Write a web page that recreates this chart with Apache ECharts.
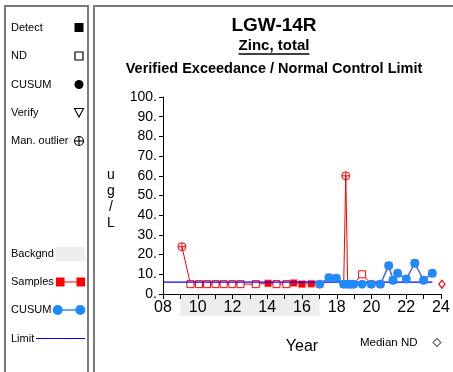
<!DOCTYPE html>
<html>
<head>
<meta charset="utf-8">
<script src="https://cdn.jsdelivr.net/npm/echarts@6/dist/echarts.min.js"></script>
<style>
html,body{margin:0;padding:0;background:#fff;}
#chart{width:453px;height:372px;}
</style>
</head>
<body>
<div id="chart"></div>
<script>
// ---- data ----
const sampleYears  = [9.09, 9.58, 10.07, 10.53, 11.02, 11.49, 11.99, 12.46, 13.34, 14.05, 14.53, 15.10, 15.52, 16.00, 16.54, 17.02, 17.55, 17.98, 18.40, 18.52, 18.63, 18.80, 18.97, 19.46, 19.99, 20.51, 20.99, 21.24, 21.50, 22.00, 22.49, 23.00, 23.50];
const sampleValues = [24,   5,    5,     5,     5,     5,     5,     5,     5,     5.4,   5,     5,     5.6,   5,     5.2,   5,     8.3,   8,     5,     60,    5,     5,     5,     10,    5,     5,     14.4,  7,     10.5,  7.6,   15.6,  7,     10.5];
const sampleFlags  = ['O', 'N',  'N',   'N',   'N',   'N',   'N',   'N',   'N',   'D',   'N',   'N',   'D',   'D',   'D',   'D',   'D',   'D',   'D',   'O',   'D',   'D',   'D',   'N',   'D',   'D',   'D',   'D',   'D',   'D',   'D',   'D',   'D'];

const cusumYears  = [17.02, 17.55, 17.98, 18.40, 18.63, 18.80, 18.97, 19.46, 19.99, 20.51, 20.99, 21.24, 21.50, 22.00, 22.49, 23.00, 23.50];
const cusumValues = [5,     8.3,   8,     5,     5,     5,     5,     5,     5,     5,     14.4,  7,     10.5,  7.6,   15.6,  7,     10.5];

const limitValue = 6;
const limitYears = [8, 23.5];
const backgroundYears = [9, 17];
const medianNDYear = 24.05;
const medianNDValue = 5;

const xTickYears  = [8, 10, 12, 14, 16, 18, 20, 22, 24];
const xTickLabels = ['08', '10', '12', '14', '16', '18', '20', '22', '24'];
const yTickValues = [0, 10, 20, 30, 40, 50, 60, 70, 80, 90, 100];
const yTickLabels = ['0.', '10.', '20.', '30.', '40.', '50.', '60.', '70.', '80.', '90.', '100.'];

// ---- build ----
const FONT = 'Liberation Sans, Arial, sans-serif';
const pick = f => sampleYears.map((x, i) => sampleFlags[i] === f ? [x, sampleValues[i]] : null).filter(Boolean);
const samplePts = sampleYears.map((x, i) => [x, sampleValues[i]]);
const cusumPts = cusumYears.map((x, i) => [x, cusumValues[i]]);
const outlierPath = 'path://M10,0A10,10,0,1,1,-10,0A10,10,0,1,1,10,0ZM-10,0L10,0M0,-10L0,10';

function textW(t, font) {
  const c = document.createElement('canvas').getContext('2d');
  c.font = font; return c.measureText(t).width;
}
const subFont = 'bold 15px ' + FONT;
const subW = textW('Zinc, total', subFont);
const titleX = 274;

const legendText = (t, y) => ({ type: 'text', x: 11, y: y, style: { text: t, fill: '#000', font: '11px ' + FONT, verticalAlign: 'middle' } });

const graphics = [
  // frames
  { type: 'rect', shape: { x: 5, y: 6, width: 83, height: 400 }, style: { fill: 'none', stroke: '#7a7a7a', lineWidth: 2 } },
  { type: 'rect', shape: { x: 94, y: 6, width: 400, height: 400 }, style: { fill: 'none', stroke: '#7a7a7a', lineWidth: 2 } },
  // titles
  { type: 'text', x: titleX, y: 26, style: { text: 'LGW-14R', fill: '#000', font: 'bold 19px ' + FONT, align: 'center', verticalAlign: 'middle' } },
  { type: 'text', x: titleX, y: 46, style: { text: 'Zinc, total', fill: '#000', font: subFont, align: 'center', verticalAlign: 'middle' } },
  { type: 'line', shape: { x1: titleX - subW / 2, y1: 54, x2: titleX + subW / 2, y2: 54 }, style: { stroke: '#000', lineWidth: 1.3 } },
  { type: 'text', x: titleX, y: 69, style: { text: 'Verified Exceedance / Normal Control Limit', fill: '#000', font: 'bold 14.5px ' + FONT, align: 'center', verticalAlign: 'middle' } },
  // y axis unit, stacked letters
  { type: 'text', x: 111, y: 199, style: { text: 'u\ng\n/\nL', fill: '#000', font: '14px ' + FONT, lineHeight: 15.8, align: 'center', verticalAlign: 'middle' } },
  // legend panel
  legendText('Detect', 27.5),
  { type: 'rect', shape: { x: 74.5, y: 23, width: 9, height: 9 }, style: { fill: '#000' } },
  legendText('ND', 56),
  { type: 'rect', shape: { x: 75, y: 52, width: 8, height: 8 }, style: { fill: '#fff', stroke: '#000', lineWidth: 1.2 } },
  legendText('CUSUM', 84.5),
  { type: 'circle', shape: { cx: 79, cy: 84.5, r: 4.5 }, style: { fill: '#000' } },
  legendText('Verify', 112.5),
  { type: 'polygon', shape: { points: [[74.5, 108.5], [83.5, 108.5], [79, 117]] }, style: { fill: '#fff', stroke: '#000', lineWidth: 1.1 } },
  legendText('Man. outlier', 141),
  { type: 'circle', shape: { cx: 79, cy: 141, r: 4.5 }, style: { fill: 'none', stroke: '#000', lineWidth: 1.1 } },
  { type: 'line', shape: { x1: 74.5, y1: 141, x2: 83.5, y2: 141 }, style: { stroke: '#000', lineWidth: 1.1 } },
  { type: 'line', shape: { x1: 79, y1: 136.5, x2: 79, y2: 145.5 }, style: { stroke: '#000', lineWidth: 1.1 } },
  legendText('Backgnd', 254),
  { type: 'rect', shape: { x: 56, y: 247, width: 29, height: 14 }, style: { fill: '#eeeeee' } },
  legendText('Samples', 282),
  { type: 'line', shape: { x1: 60, y1: 282, x2: 81, y2: 282 }, style: { stroke: '#ff0000', lineWidth: 1 } },
  { type: 'rect', shape: { x: 56, y: 277.5, width: 8.5, height: 9 }, style: { fill: '#ff0000' } },
  { type: 'rect', shape: { x: 76.5, y: 277.5, width: 8.5, height: 9 }, style: { fill: '#ff0000' } },
  legendText('CUSUM', 310),
  { type: 'line', shape: { x1: 58, y1: 310, x2: 80, y2: 310 }, style: { stroke: '#6aa8f0', lineWidth: 2 } },
  { type: 'circle', shape: { cx: 57.7, cy: 310, r: 5 }, style: { fill: '#1a8cff' } },
  { type: 'circle', shape: { cx: 80.3, cy: 310, r: 5 }, style: { fill: '#1a8cff' } },
  legendText('Limit', 338.5),
  { type: 'line', shape: { x1: 36, y1: 338.5, x2: 85, y2: 338.5 }, style: { stroke: '#0000ff', lineWidth: 1 } },
  // median ND note
  { type: 'text', x: 360, y: 342.5, style: { text: 'Median ND', fill: '#000', font: '11.5px ' + FONT, verticalAlign: 'middle' } },
  { type: 'polygon', shape: { points: [[437, 338.5], [441, 342.5], [437, 346.5], [433, 342.5]] }, style: { fill: '#fff', stroke: '#000', lineWidth: 1 } }
];

const chart = echarts.init(document.getElementById('chart'), null, { renderer: 'canvas' });
chart.setOption({
  animation: false,
  backgroundColor: '#fff',
  textStyle: { fontFamily: FONT },
  grid: [
    { left: 163, right: 12, top: 97, bottom: 78 },
    { left: 163, right: 12, top: 295, height: 21 }
  ],
  xAxis: [
    {
      gridIndex: 0, type: 'value', min: 8, max: 24, interval: 1, z: 5,
      name: 'Year', nameLocation: 'middle', nameGap: 45,
      nameTextStyle: { fontSize: 16, color: '#000', fontFamily: FONT },
      axisLine: { lineStyle: { color: '#000', width: 1 } },
      axisTick: { length: 5, lineStyle: { color: '#000' } },
      splitLine: { show: false },
      axisLabel: {
        fontSize: 16, color: '#000', margin: 6, fontFamily: FONT,
        showMinLabel: true, showMaxLabel: true,
        formatter: v => { const i = xTickYears.indexOf(Math.round(v * 1000) / 1000); return i >= 0 ? xTickLabels[i] : ''; }
      }
    },
    { gridIndex: 1, type: 'value', min: 8, max: 24, show: false }
  ],
  yAxis: [
    {
      gridIndex: 0, type: 'value', min: 0, max: 100, interval: 10,
      axisLine: { show: true, lineStyle: { color: '#000', width: 1 } },
      axisTick: { show: true, length: 4, lineStyle: { color: '#000' } },
      splitLine: { show: false },
      axisLabel: {
        fontSize: 14, color: '#000', margin: 6, fontFamily: FONT,
        formatter: v => { const i = yTickValues.indexOf(Math.round(v)); return i >= 0 ? yTickLabels[i] : ''; }
      }
    },
    { gridIndex: 1, type: 'value', min: 0, max: 1, show: false }
  ],
  graphic: graphics,
  series: [
    {
      name: 'Backgnd', type: 'line', xAxisIndex: 1, yAxisIndex: 1, z: 0,
      data: [[backgroundYears[0], 0.5]], symbol: 'none', silent: true,
      markArea: { silent: true, itemStyle: { color: '#ededed' }, data: [[{ xAxis: backgroundYears[0] }, { xAxis: backgroundYears[1] }]] }
    },
    {
      name: 'Samples', type: 'line', data: samplePts, symbol: 'none', z: 2,
      lineStyle: { color: '#ff0000', width: 1 }
    },
    {
      name: 'Detect', type: 'scatter', data: pick('D'), symbol: 'rect', symbolSize: 7, z: 3,
      itemStyle: { color: '#ff0000', borderColor: '#ff8080', borderWidth: 0.5, opacity: 1 }
    },
    {
      name: 'ND', type: 'scatter', data: pick('N'), symbol: 'rect', symbolSize: 7, z: 3,
      itemStyle: { color: '#fff', borderColor: '#ff0000', borderWidth: 1, opacity: 1 }
    },
    {
      name: 'Man. outlier', type: 'scatter', data: pick('O'), symbol: outlierPath, symbolSize: 8, z: 3,
      itemStyle: { color: 'rgba(255,255,255,0)', borderColor: '#ff0000', borderWidth: 1, opacity: 1 }
    },
    {
      name: 'Limit', type: 'line', data: limitYears.map(x => [x, limitValue]), symbol: 'none', z: 4,
      lineStyle: { color: '#0000ff', width: 1.3 }
    },
    {
      name: 'CUSUM', type: 'line', data: cusumPts, symbol: 'circle', symbolSize: 9, z: 5,
      lineStyle: { color: '#4a78dc', width: 1.5 },
      itemStyle: { color: '#1e8cff', opacity: 1 }
    },
    {
      name: 'Median ND', type: 'scatter', data: [[medianNDYear, medianNDValue]], symbol: 'diamond', symbolSize: [6, 8], clip: false, z: 5,
      itemStyle: { color: '#fff', borderColor: '#ff0000', borderWidth: 1.2, opacity: 1 }
    }
  ]
});
</script>
</body>
</html>
